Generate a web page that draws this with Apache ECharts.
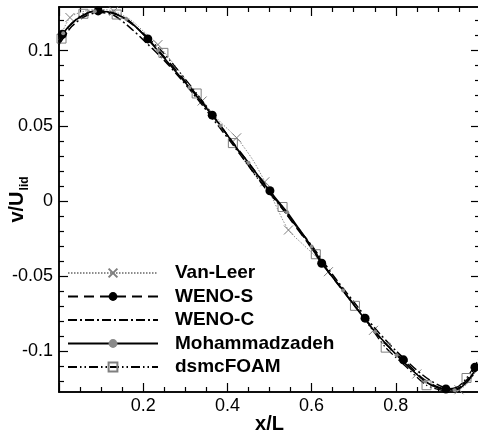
<!DOCTYPE html>
<html>
<head>
<meta charset="utf-8">
<script src="https://cdn.jsdelivr.net/npm/echarts@6/dist/echarts.min.js"></script>
<style>html,body{margin:0;padding:0;background:#fff}#c{width:478px;height:436px}</style>
</head>
<body>
<div id="c"></div>
<script>
// ---------- data ----------
const seriesNames = ['Van-Leer', 'WENO-S', 'WENO-C', 'Mohammadzadeh', 'dsmcFOAM'];

const vanLeerX = [0.000,0.026,0.060,0.095,0.130,0.170,0.200,0.235,0.270,0.300,0.340,0.380,0.422,0.460,0.489,0.510,0.545,0.580,0.610,0.640,0.680,0.710,0.747,0.780,0.810,0.850,0.880,0.920,0.950,0.975,1.000];
const vanLeerY = [0.1070,0.1220,0.1262,0.1275,0.1262,0.1205,0.1130,0.1040,0.0920,0.0810,0.0665,0.0535,0.0420,0.0275,0.0128,0.0000,-0.0193,-0.0290,-0.0370,-0.0470,-0.0620,-0.0730,-0.0860,-0.0965,-0.1045,-0.1150,-0.1220,-0.1262,-0.1255,-0.1200,-0.1080];
const vanLeerMarks = [0.026,0.130,0.235,0.340,0.422,0.489,0.545,0.640,0.747,0.850,0.950];

const wenoSX = [0.000,0.008,0.030,0.060,0.093,0.130,0.170,0.211,0.250,0.290,0.330,0.364,0.400,0.450,0.501,0.550,0.590,0.624,0.660,0.700,0.727,0.770,0.818,0.860,0.890,0.919,0.950,0.970,0.988,1.000];
const wenoSY = [0.1060,0.1109,0.1180,0.1238,0.1264,0.1250,0.1190,0.1078,0.0960,0.0830,0.0695,0.0571,0.0438,0.0255,0.0068,-0.0125,-0.0275,-0.0414,-0.0545,-0.0690,-0.0779,-0.0935,-0.1056,-0.1170,-0.1225,-0.1250,-0.1235,-0.1185,-0.1105,-0.1050];
const wenoSMarks = [0.008,0.093,0.211,0.364,0.501,0.624,0.727,0.818,0.919,0.988];

const wenoCX = [0.000,0.030,0.060,0.095,0.130,0.170,0.210,0.250,0.290,0.330,0.370,0.410,0.450,0.500,0.550,0.600,0.650,0.700,0.750,0.800,0.850,0.880,0.910,0.940,0.970,1.000];
const wenoCY = [0.1040,0.1160,0.1225,0.1255,0.1235,0.1150,0.1045,0.0935,0.0810,0.0675,0.0530,0.0385,0.0235,0.0055,-0.0120,-0.0295,-0.0490,-0.0670,-0.0845,-0.0995,-0.1125,-0.1190,-0.1235,-0.1250,-0.1200,-0.1090];
const wenoCMarks = [];

const mohX = [0.000,0.010,0.030,0.055,0.085,0.115,0.160,0.200,0.235,0.270,0.310,0.345,0.384,0.420,0.450,0.500,0.542,0.570,0.600,0.640,0.675,0.710,0.751,0.802,0.835,0.870,0.900,0.940,0.965,0.985,1.000];
const mohY = [0.1045,0.1115,0.1180,0.1232,0.1262,0.1258,0.1210,0.1110,0.1000,0.0885,0.0755,0.0635,0.0500,0.0360,0.0255,0.0068,-0.0075,-0.0185,-0.0303,-0.0470,-0.0595,-0.0725,-0.0870,-0.1025,-0.1115,-0.1200,-0.1242,-0.1258,-0.1215,-0.1140,-0.1075];
const mohMarks = [0.010,0.085,0.160,0.235,0.310,0.384,0.450,0.542,0.600,0.675,0.751,0.802,0.870,0.940];

const dsmcX = [0.000,0.006,0.030,0.058,0.095,0.137,0.190,0.248,0.290,0.327,0.370,0.413,0.460,0.500,0.531,0.570,0.610,0.660,0.703,0.740,0.776,0.820,0.873,0.920,0.950,0.968,1.000];
const dsmcY = [0.1050,0.1080,0.1180,0.1245,0.1265,0.1240,0.1140,0.0985,0.0845,0.0715,0.0555,0.0385,0.0195,0.0050,-0.0040,-0.0195,-0.0354,-0.0540,-0.0697,-0.0840,-0.0975,-0.1090,-0.1225,-0.1262,-0.1230,-0.1177,-0.1040];
const dsmcMarks = [0.006,0.058,0.137,0.248,0.327,0.413,0.531,0.610,0.703,0.776,0.873,0.968];

const xTickLabels = [0.2, 0.4, 0.6, 0.8];
const xMajor = [0, 0.2, 0.4, 0.6, 0.8, 1.0];
const xMinor = [0.05,0.1,0.15,0.25,0.3,0.35,0.45,0.5,0.55,0.65,0.7,0.75,0.85,0.9,0.95];
const yTickLabels = [-0.1, -0.05, 0, 0.05, 0.1];
const yMinor = [-0.12,-0.11,-0.09,-0.08,-0.07,-0.06,-0.04,-0.03,-0.02,-0.01,0.01,0.02,0.03,0.04,0.06,0.07,0.08,0.09,0.11,0.12];

// ---------- chart ----------
const X_MIN = 0, X_MAX = 1, Y_MIN = -0.127, Y_MAX = 0.129;
const FONT = 'Liberation Sans';

function build(xs, ys, marks) {
  return xs.map((x, i) => marks.indexOf(x) >= 0 ? [x, ys[i]] : { value: [x, ys[i]], symbol: 'none' });
}

function xAx(pos, values, len, labels, name) {
  return {
    type: 'value', position: pos, min: X_MIN, max: X_MAX, gridIndex: 0,
    axisLine: { show: true, onZero: false, lineStyle: { color: '#000', width: 1.5 } },
    axisTick: { show: true, inside: true, length: len, customValues: values, lineStyle: { color: '#000', width: 1.2 } },
    axisLabel: labels ? { show: true, customValues: labels, margin: 5, color: '#000', fontSize: 18, fontFamily: FONT, formatter: v => String(v) } : { show: false },
    splitLine: { show: false },
    name: name || '', nameLocation: 'middle', nameGap: 22, nameMoveOverlap: false,
    nameTextStyle: { color: '#000', fontSize: 20, fontWeight: 'bold', fontFamily: FONT, verticalAlign: 'top' }
  };
}
function yAx(pos, values, len, labels, name) {
  return {
    type: 'value', position: pos, min: Y_MIN, max: Y_MAX, gridIndex: 0,
    axisLine: { show: true, onZero: false, lineStyle: { color: '#000', width: 1.5 } },
    axisTick: { show: true, inside: true, length: len, customValues: values, lineStyle: { color: '#000', width: 1.2 } },
    axisLabel: labels ? { show: true, customValues: labels, margin: 6, color: '#000', fontSize: 18, fontFamily: FONT, formatter: v => String(v) } : { show: false },
    splitLine: { show: false },
    name: name || '', nameLocation: 'middle', nameGap: 30, nameRotate: 90, nameMoveOverlap: false,
    nameTextStyle: {
      color: '#000', fontFamily: FONT,
      rich: {
        a: { fontSize: 20, fontWeight: 'bold', fontFamily: FONT, color: '#000', lineHeight: 22, verticalAlign: 'top' },
        b: { fontSize: 12, fontWeight: 'bold', fontFamily: FONT, color: '#000', lineHeight: 12, verticalAlign: 'top', padding: [12, 0, 0, 1] }
      }
    }
  };
}

const chart = echarts.init(document.getElementById('c'), null, { renderer: 'canvas' });
const GRAY = '#7f7f7f';
chart.setOption({
  animation: false,
  backgroundColor: '#fff',
  grid: { left: 59, top: 7, right: -2, bottom: 44, containLabel: false, outerBoundsMode: 'none' },
  xAxis: [
    xAx('bottom', xMajor, 9, xTickLabels, 'x/L'),
    xAx('bottom', xMinor, 5, null),
    xAx('top', xMajor, 9, null),
    xAx('top', xMinor, 5, null)
  ],
  yAxis: [
    yAx('left', yTickLabels, 9, yTickLabels, '{a|v/U}{b|lid}'),
    yAx('left', yMinor, 5, null),
    yAx('right', yTickLabels, 9, null),
    yAx('right', yMinor, 5, null)
  ],
  legend: {
    orient: 'vertical', left: 62, top: 258,
    itemWidth: 90, itemHeight: 11, itemGap: 3.5,
    data: seriesNames,
    textStyle: { fontSize: 19, fontWeight: 'bold', fontFamily: FONT, color: '#000', lineHeight: 20, padding: [0, 0, 0, 12] }
  },
  series: [
    {
      name: 'Van-Leer', type: 'line', smooth: 0.25, showAllSymbol: true,
      symbol: 'path://M0,0L10,10M0,10L10,0', symbolSize: 9,
      itemStyle: { color: 'rgba(0,0,0,0)', borderColor: GRAY, borderWidth: 1 },
      lineStyle: { color: '#8c8c8c', width: 1, type: [1.5, 1.5] },
      data: build(vanLeerX, vanLeerY, vanLeerMarks), z: 2
    },
    {
      name: 'WENO-S', type: 'line', smooth: 0.25, showAllSymbol: true,
      symbol: 'circle', symbolSize: 9,
      itemStyle: { color: '#000' },
      lineStyle: { color: '#000', width: 1.5, type: [10, 6] },
      data: build(wenoSX, wenoSY, wenoSMarks), z: 4
    },
    {
      name: 'WENO-C', type: 'line', smooth: 0.25, showAllSymbol: true,
      symbol: 'none',
      itemStyle: { color: 'rgba(0,0,0,0)' },
      lineStyle: { color: '#000', width: 1.5, type: [9, 3, 2, 3] },
      data: build(wenoCX, wenoCY, wenoCMarks), z: 3
    },
    {
      name: 'Mohammadzadeh', type: 'line', smooth: 0.25, showAllSymbol: true,
      symbol: 'circle', symbolSize: 4,
      itemStyle: { color: '#8a8a8a' },
      lineStyle: { color: '#000', width: 1.6, type: 'solid' },
      data: build(mohX, mohY, mohMarks), z: 5
    },
    {
      name: 'dsmcFOAM', type: 'line', smooth: 0.25, showAllSymbol: true,
      symbol: 'rect', symbolSize: 9,
      itemStyle: { color: 'rgba(0,0,0,0)', borderColor: GRAY, borderWidth: 1 },
      lineStyle: { color: '#000', width: 1.3, type: [9, 3, 1.5, 3, 1.5, 3] },
      data: build(dsmcX, dsmcY, dsmcMarks), z: 3
    }
  ]
});
</script>
</body>
</html>
